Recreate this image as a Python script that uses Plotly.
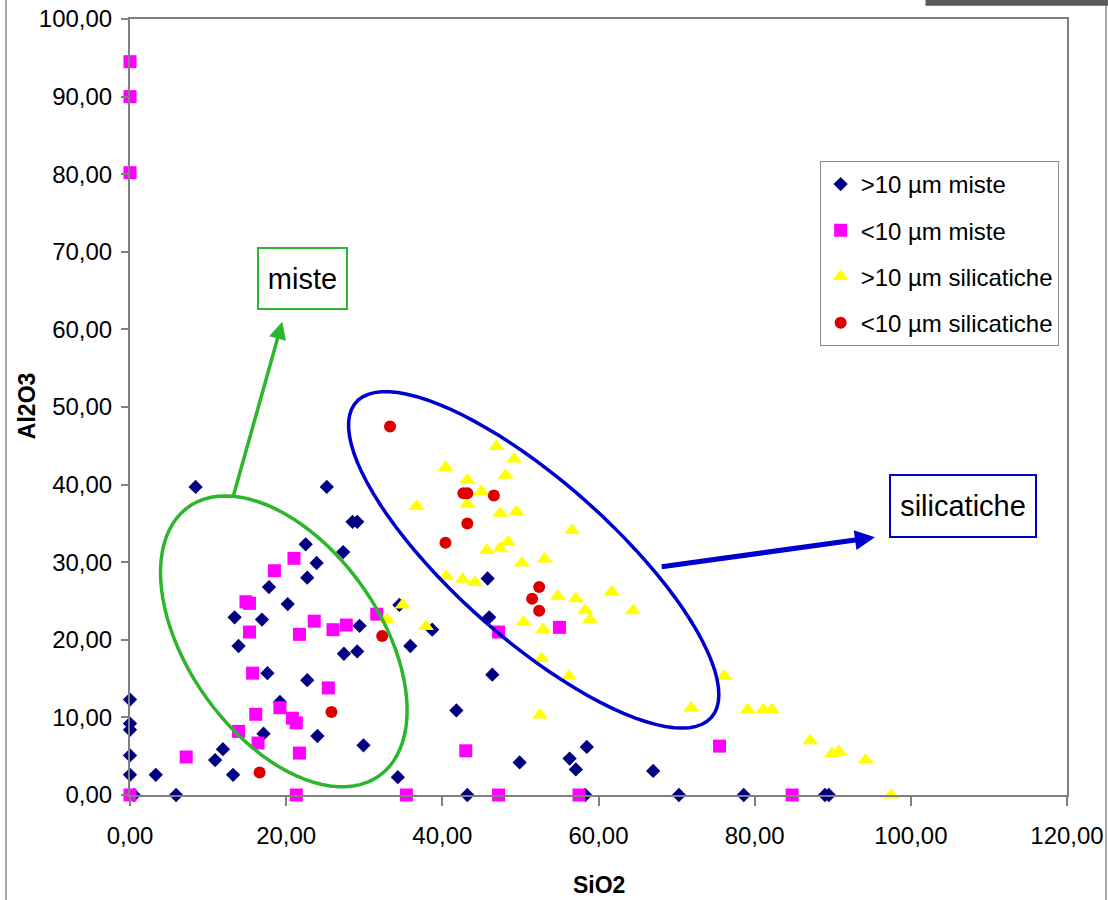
import numpy as np
import plotly.graph_objects as go

# ---------------- data ----------------
big_miste_x = [8.4, 25.2, 28.5, 29.1, 22.5, 27.3, 23.9, 22.7, 17.8, 20.2, 13.4, 16.9, 29.4, 13.9,
               27.4, 29.1, 35.9, 34.5, 38.7, 17.6, 22.7, 19.2, 0.0, 0.0, 0.0, 0.0, 0.0, 3.3, 5.9,
               0.5, 10.9, 11.9, 13.2, 17.1, 24.0, 29.9, 34.3, 45.8, 46.0, 46.4, 41.8, 49.9, 56.3,
               57.1, 58.5, 43.2, 58.3, 67.0, 70.3, 78.6, 89.0, 89.5]
big_miste_y = [39.7, 39.7, 35.2, 35.2, 32.3, 31.3, 29.9, 28.0, 26.8, 24.6, 22.9, 22.6, 21.8, 19.2,
               18.2, 18.5, 19.2, 24.5, 21.3, 15.7, 14.8, 12.0, 12.3, 9.2, 8.4, 5.1, 2.6, 2.6, 0.0,
               0.0, 4.5, 5.9, 2.6, 7.9, 7.6, 6.4, 2.3, 27.9, 22.9, 15.5, 10.9, 4.2, 4.7,
               3.3, 6.2, 0.0, 0.0, 3.1, 0.0, 0.0, 0.0, 0.0]

small_miste_x = [0.0, 0.0, 0.0, 21.0, 18.5, 14.85, 15.3, 15.3, 23.6, 21.7, 26.0, 27.7, 31.6, 15.7,
                 25.4, 19.2, 16.1, 20.8, 21.3, 13.9, 16.4, 21.7, 7.2, 0.0, 21.3, 35.4, 47.2, 55.0,
                 43.0, 47.2, 57.5, 75.5, 84.8]
small_miste_y = [94.5, 90.0, 80.2, 30.5, 28.9, 24.9, 24.7, 21.0, 22.4, 20.7, 21.3, 21.9, 23.3, 15.7,
                 13.8, 11.25, 10.4, 9.9, 9.3, 8.2, 6.7, 5.4, 4.9, 0.0, 0.0, 0.0, 21.0, 21.6,
                 5.7, 0.0, 0.0, 6.3, 0.0]

big_sil_x = [34.9, 32.9, 37.9, 36.7, 40.4, 40.5, 46.9, 49.2, 48.1, 43.2, 45.0, 43.2, 47.4, 49.5,
             56.6, 45.7, 47.4, 48.4, 50.2, 53.1, 42.6, 44.2, 54.8, 57.1, 61.7, 58.3, 58.9, 50.4,
             52.9, 52.7, 56.2, 52.5, 64.4, 76.1, 71.9, 79.1, 81.1, 82.2, 87.1, 89.9, 90.8, 94.2, 97.5]
big_sil_y = [24.5, 22.6, 21.7, 37.2, 42.2, 28.2, 44.9, 43.3, 41.2, 40.6, 39.1, 37.5, 36.3, 36.5,
             34.1, 31.5, 31.8, 32.6, 29.9, 30.4, 27.8, 27.4, 25.6, 25.3, 26.2, 23.8, 22.6, 22.3,
             21.3, 17.6, 15.3, 10.3, 23.75, 15.3, 11.2, 11.0, 11.0, 11.0, 7.0, 5.3, 5.6, 4.5, 0.0]

small_sil_x = [33.3, 42.7, 43.2, 46.6, 43.2, 40.4, 52.4, 51.5, 52.4, 32.3, 25.8, 16.6]
small_sil_y = [47.5, 38.9, 38.9, 38.6, 35.0, 32.5, 26.8, 25.3, 23.75, 20.5, 10.7, 2.9]

x_tick_vals = [0, 20, 40, 60, 80, 100, 120]
x_tick_text = ["0,00", "20,00", "40,00", "60,00", "80,00", "100,00", "120,00"]
y_tick_vals = [0, 10, 20, 30, 40, 50, 60, 70, 80, 90, 100]
y_tick_text = ["0,00", "10,00", "20,00", "30,00", "40,00", "50,00", "60,00", "70,00",
               "80,00", "90,00", "100,00"]

series_names = [">10 µm miste", "&lt;10 µm miste", ">10 µm silicatiche", "&lt;10 µm silicatiche"]

# group outlines (annotation ellipses): centre, semi-axes, angle (deg)
green_ell = dict(cx=19.7, cy=19.8, a=21.2, b=12.3, ang=-55.0)
blue_ell = dict(cx=51.7, cy=30.3, a=30.5, b=10.1, ang=-41.8)

FONT = "Liberation Sans, Arial, sans-serif"


def ellipse_path(cx, cy, a, b, ang, n=90):
    t = np.linspace(0, 2 * np.pi, n)
    th = np.deg2rad(ang)
    xs = cx + a * np.cos(t) * np.cos(th) - b * np.sin(t) * np.sin(th)
    ys = cy + a * np.cos(t) * np.sin(th) + b * np.sin(t) * np.cos(th)
    p = "M {:.3f},{:.3f}".format(xs[0], ys[0])
    for xv, yv in zip(xs[1:], ys[1:]):
        p += " L {:.3f},{:.3f}".format(xv, yv)
    return p + " Z"


fig = go.Figure()
fig.add_trace(go.Scatter(x=big_miste_x, y=big_miste_y, mode="markers", name=series_names[0],
                         legendgroup="a", cliponaxis=False,
                         marker=dict(symbol="diamond", size=11, color="#000080")))
fig.add_trace(go.Scatter(x=small_miste_x, y=small_miste_y, mode="markers", name=series_names[1],
                         legendgroup="b", cliponaxis=False,
                         marker=dict(symbol="square", size=13, color="#ff00ff")))
fig.add_trace(go.Scatter(x=big_sil_x, y=big_sil_y, mode="markers", name=series_names[2],
                         legendgroup="c", cliponaxis=False,
                         marker=dict(symbol="triangle-up", size=14, color="#ffff00")))
fig.add_trace(go.Scatter(x=small_sil_x, y=small_sil_y, mode="markers", name=series_names[3],
                         legendgroup="d", cliponaxis=False,
                         marker=dict(symbol="circle", size=12, color="#dd0000")))

shapes = [
    dict(type="path", xref="x", yref="y", path=ellipse_path(**green_ell),
         line=dict(color="#2db52d", width=3.5)),
    dict(type="path", xref="x", yref="y", path=ellipse_path(**blue_ell),
         line=dict(color="#0000cc", width=3.5)),
    # outer chart frame pieces
    dict(type="line", xref="paper", yref="paper", x0=-0.1323, x1=-0.1323, y0=-0.14, y1=1.03,
         line=dict(color="#8a8a8a", width=1.5)),
    dict(type="line", xref="paper", yref="paper", x0=1.0416, x1=1.0416, y0=-0.14, y1=1.03,
         line=dict(color="#8a8a8a", width=1.5)),
    dict(type="rect", xref="paper", yref="paper", x0=0.849, x1=1.06, y0=1.017, y1=1.03,
         line=dict(width=0), fillcolor="#5a5a5a"),
]

annotations = [
    # arrows
    dict(x=19.5, y=61.0, ax=13.2, ay=38.4, xref="x", yref="y", axref="x", ayref="y",
         text="", showarrow=True, arrowhead=2, arrowsize=1.0, arrowwidth=3.5,
         arrowcolor="#2db52d", standoff=0),
    dict(x=95.4, y=33.2, ax=67.9, ay=29.4, xref="x", yref="y", axref="x", ayref="y",
         text="", showarrow=True, arrowhead=2, arrowsize=0.8, arrowwidth=5,
         arrowcolor="#0000cc", standoff=0),
    # labels
    dict(x=22.1, y=66.6, xref="x", yref="y", text="miste", showarrow=False,
         font=dict(family=FONT, size=29, color="black"), bgcolor="white",
         bordercolor="#2db52d", borderwidth=2, width=85, height=57),
    dict(x=106.7, y=37.2, xref="x", yref="y", text="silicatiche", showarrow=False,
         font=dict(family=FONT, size=29, color="black"), bgcolor="white",
         bordercolor="#0000cc", borderwidth=2, width=142, height=58),
    # axis titles
    dict(x=0.5, y=-0.116, xref="paper", yref="paper", text="<b>SiO2</b>", showarrow=False,
         font=dict(family=FONT, size=23, color="black"), yanchor="middle"),
    dict(x=-0.110, y=0.501, xref="paper", yref="paper", text="<b>Al2O3</b>", showarrow=False,
         textangle=-90, font=dict(family=FONT, size=23, color="black"), xanchor="center"),
]

fig.update_layout(
    template="none",
    width=1108, height=900, autosize=False,
    margin=dict(l=130, r=41, t=19, b=105, pad=0),
    paper_bgcolor="white", plot_bgcolor="white",
    font=dict(family=FONT, size=22, color="black"),
    shapes=shapes, annotations=annotations,
    legend=dict(x=0.736, y=0.817, xanchor="left", yanchor="top", bgcolor="white",
                bordercolor="#8a8a8a", borderwidth=1, traceorder="grouped",
                tracegroupgap=12, font=dict(family=FONT, size=24, color="black")),
    showlegend=True,
)
fig.update_xaxes(range=[0, 120], tickvals=x_tick_vals, ticktext=x_tick_text, automargin=False,
                 showline=True, linecolor="#808080", linewidth=2, mirror=True,
                 ticks="outside", ticklen=9, tickcolor="#808080", tickwidth=1.5,
                 showgrid=False, zeroline=False, ticklabelstandoff=9,
                 tickfont=dict(family=FONT, size=24, color="black"))
fig.update_yaxes(range=[0, 100], tickvals=y_tick_vals, ticktext=y_tick_text, automargin=False,
                 showline=True, linecolor="#808080", linewidth=2, mirror=True,
                 ticks="outside", ticklen=7, tickcolor="#808080", tickwidth=1.5,
                 showgrid=False, zeroline=False, ticklabelstandoff=4,
                 tickfont=dict(family=FONT, size=24, color="black"))

fig.write_html("out.html")
